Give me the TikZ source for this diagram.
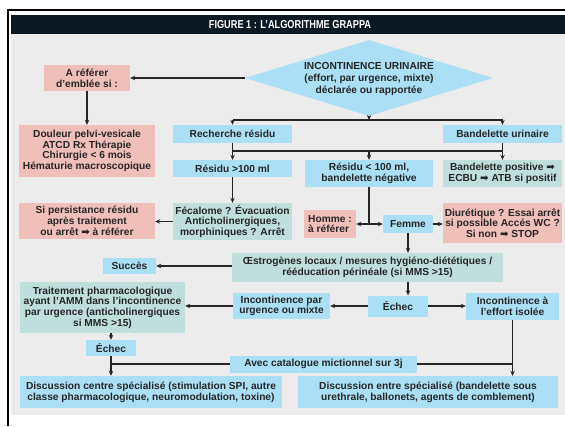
\documentclass[tikz,border=0pt]{standalone}
\usepackage{fontspec}
\usepackage{graphicx}
\setmainfont{Liberation Sans}
\newfontfamily\symf{DejaVu Sans}
\usetikzlibrary{shapes.geometric,arrows.meta}
\definecolor{cblue}{HTML}{AADFF5}
\definecolor{cpink}{HTML}{F0BFBA}
\definecolor{cteal}{HTML}{BFDFDC}
\definecolor{cgrey}{HTML}{ECECEC}
\definecolor{cnavy}{HTML}{0A1923}
\definecolor{ctext}{HTML}{262626}
\newcommand\rarr{{\symf\bfseries\char"27A1}}
\begin{document}
\begin{tikzpicture}[x=1pt,y=-1pt,
 box/.style={inner sep=0pt, align=center, font=\fontsize{10.2}{10.7}\selectfont\bfseries, text=ctext},
 bluebox/.style={box, fill=cblue},
 pinkbox/.style={box, fill=cpink},
 tealbox/.style={box, fill=cteal},
 sz/.style 2 args={minimum width=#1pt, minimum height=#2pt},
 link/.style={line width=1.1pt, draw=black!85},
 arr/.style={link, -{Stealth[length=5pt,width=4.5pt]}},
]
\useasboundingbox (0,0) rectangle (565,426);
% frame
\fill[cgrey] (11,34) rectangle (565,415);
\fill[cnavy] (11,15) rectangle (565,34);
\draw[line width=2pt] (565,10) -- (8,10) -- (8,426);
\node[text=white, font=\fontsize{11.5}{13}\selectfont\bfseries] (title) at (290,25) {\scalebox{0.8}[1]{FIGURE 1 : L'ALGORITHME GRAPPA}};

% diamond
\node[shape=diamond, fill=cblue, minimum width=248pt, minimum height=76pt, inner sep=0pt] (dia) at (369,78) {};
\node[box, font=\fontsize{10.2}{11.8}\selectfont\bfseries] (diatext) at (369,79) {INCONTINENCE URINAIRE\\(effort, par urgence, mixte)\\déclarée ou rapportée};

% boxes
\node[pinkbox, sz={86}{26}] (refer) at (87,78) {A référer\\d'emblée si :};
\node[pinkbox, sz={136}{52}] (douleur) at (87,151) {Douleur pelvi-vesicale\\ATCD Rx Thérapie\\Chirurgie < 6 mois\\Hématurie macroscopique};
\node[bluebox, sz={119}{18}] (rech) at (232.5,134) {Recherche résidu};
\node[bluebox, sz={119}{18}] (bandu) at (502.5,134) {Bandelette urinaire};
\node[bluebox, sz={119}{17}] (res100) at (232.5,168.5) {Résidu >100 ml};
\node[bluebox, sz={128}{27}] (resless) at (369,173.5) {Résidu < 100 ml,\\bandelette négative};
\node[tealbox, sz={119}{27}] (bandpos) at (502.5,173.5) {Bandelette positive \rarr\\ECBU \rarr\ ATB si positif};
\node[tealbox, sz={119}{37}] (fecal) at (232.5,221.5) {Fécalome ? Évacuation\\Anticholinergiques,\\morphiniques ? Arrêt};
\node[pinkbox, sz={136}{36}] (persist) at (87,221) {Si persistance résidu\\après traitement\\ou arrêt \rarr\ à référer};
\node[pinkbox, sz={52}{28}, align=left] (homme) at (330,224) {Homme :\\à référer};
\node[bluebox, sz={50}{18}] (femme) at (408,224) {Femme};
\node[pinkbox, sz={119}{40}] (diur) at (502.5,223) {Diurétique ? Essai arrêt\\si possible Accés WC ?\\Si non \rarr\ STOP};
\node[tealbox, sz={271}{29}] (oest) at (367.5,267.5) {Œstrogènes locaux / mesures hygiéno-diététiques /\\rééducation périnéale (si MMS >15)};
\node[bluebox, sz={53}{16}] (succes) at (129.5,266) {Succès};
\node[bluebox, sz={60}{21}] (echec1) at (398,306) {Échec};
\node[bluebox, sz={93}{27}] (effort) at (512.5,306) {Incontinence à\\l'effort isolée};
\node[bluebox, sz={97}{26}] (urg) at (281.5,306) {Incontinence par\\urgence ou mixte};
\node[tealbox, sz={165}{51}] (trait) at (102.5,307.5) {Traitement pharmacologique\\ayant l'AMM dans l'incontinence\\par urgence (anticholinergiques\\si MMS >15)};
\node[bluebox, sz={50}{16}] (echec2) at (111,348) {Échec};
\node[bluebox, sz={187}{17}] (avec) at (323.5,364) {Avec catalogue mictionnel sur 3j};
\node[bluebox, sz={262}{32}] (discL) at (151,392) {Discussion centre spécialisé (stimulation SPI, autre\\classe pharmacologique, neuromodulation, toxine)};
\node[bluebox, sz={260}{32}] (discR) at (428,392) {Discussion entre spécialisé (bandelette sous\\urethrale, ballonets, agents de comblement)};

% junctions
\coordinate (h1) at (369,120);
\coordinate (h2) at (369,151);
\coordinate (h3) at (369,224);

% connectors
\draw[arr] (dia.west) -- (refer.east);
\draw[arr] (refer.south) -- (douleur.north);
\draw[arr] (dia.south) -- (h1);
\draw[link] (h1 -| rech.north) -- (h1 -| bandu.north);
\draw[arr] (h1 -| rech.north) -- (rech.north);
\draw[arr] (h1 -| bandu.north) -- (bandu.north);
\draw[arr] (rech.south) -- (res100.north);
\draw[arr] (bandu.south) -- (bandpos.north);
\draw[link] (h2 -| rech.south) -- (h2 -| bandu.south);
\draw[arr] (h2) -- (resless.north);
\draw[arr] (res100.south) -- (fecal.north);
\draw[arr] (fecal.west) -- (fecal.west -| persist.east);
\draw[link] (resless.south) -- (h3);
\draw[arr] (h3) -- (homme.east);
\draw[arr] (h3) -- (femme.west);
\draw[arr] (femme.east) -- (femme.east -| diur.west);
\draw[arr] (femme.south) -- (femme.south |- oest.north);
\draw[arr] (oest.west |- succes.east) -- (succes.east);
\draw[arr] (oest.south -| femme.south) -- (echec1.north -| femme.south);
\draw[arr] (echec1.east) -- (effort.west);
\draw[arr] (echec1.west) -- (urg.east);
\draw[arr] (urg.west) -- (urg.west -| trait.east);
\draw[arr] (echec2.north |- trait.south) -- (echec2.north);
\draw[arr] (echec2.south) -- (echec2.south |- discL.north);
\draw[link] (avec.west) -- (avec.west -| echec2.south);
\draw[link] (avec.east) -- (avec.east -| effort.south);
\draw[arr] (effort.south) -- (effort.south |- discR.north);
\end{tikzpicture}
\end{document}
